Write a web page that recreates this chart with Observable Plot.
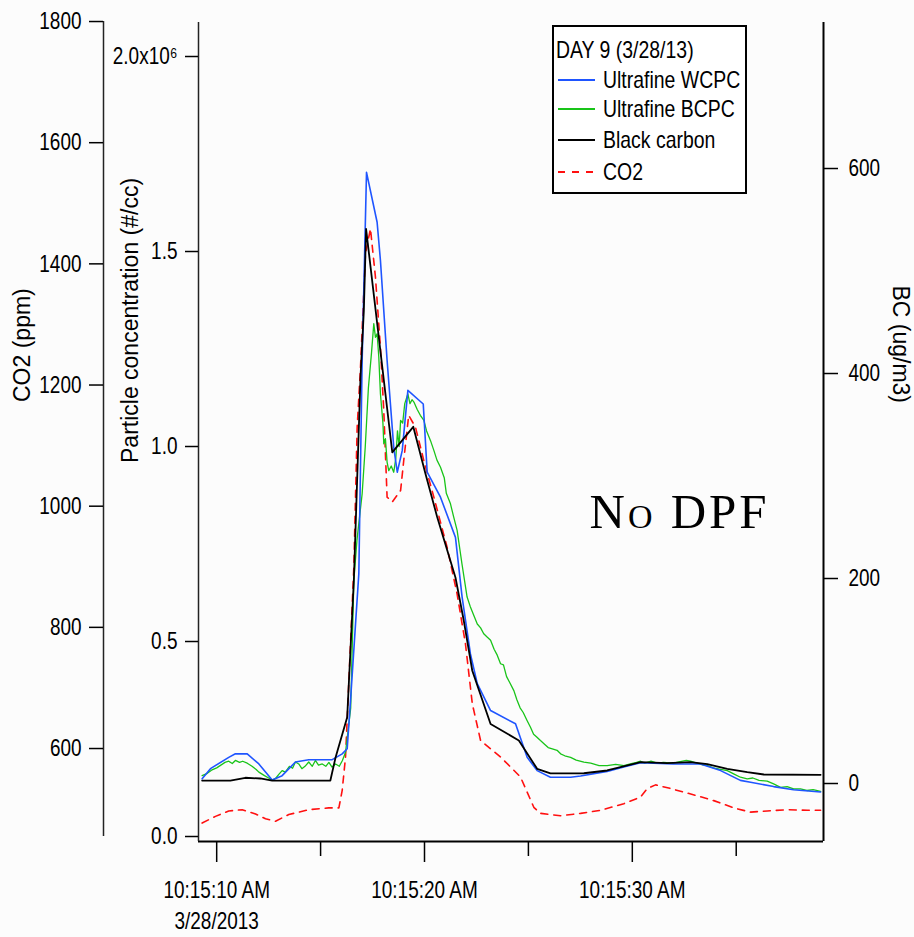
<!DOCTYPE html>
<html>
<head>
<meta charset="utf-8">
<script src="https://cdn.jsdelivr.net/npm/d3@7"></script>
<script src="https://cdn.jsdelivr.net/npm/@observablehq/plot@0.6"></script>
<style>
  body { margin: 0; background: #fcfcfc; }
  #wrap { position: relative; width: 914px; height: 937px; overflow: hidden;
          font-family: 'Liberation Sans', Arial, sans-serif; }
  #legend { position: absolute; left: 552px; top: 25px; width: 195px; height: 169px;
            border: 2px solid #000; box-sizing: border-box; background: #fff; font-size: 24px; color: #000; }
  #legend .row { position: absolute; height: 28px; line-height: 28px; white-space: nowrap;
                 transform: scaleX(0.81); transform-origin: 0 50%; }
  #legend svg { position: absolute; }
</style>
</head>
<body>
<div id="wrap"></div>
<script>
// ---- data (time in seconds after 10:15:00 AM, 3/28/2013) ----
const seriesNames = ["Ultrafine WCPC", "Ultrafine BCPC", "Black carbon", "CO2"];
const legendTitle = "DAY 9 (3/28/13)";

// Ultrafine WCPC, particle concentration in 10^6 #/cc
const wcpc = [
  [9.30,0.148],[9.70,0.174],[10.58,0.203],[10.90,0.212],[11.47,0.212],[12.03,0.186],[12.67,0.145],
  [13.15,0.156],[13.79,0.191],[14.43,0.197],[15.56,0.197],[16.04,0.212],[16.28,0.225],[16.44,0.349],
  [16.84,0.674],[17.00,1.221],[17.21,1.703],[17.72,1.575],[17.88,1.477],[18.20,1.221],[18.52,0.998],
  [18.69,0.934],[18.93,0.990],[19.20,1.144],[19.94,1.109],[20.13,0.934],[20.77,0.870],[21.49,0.767],
  [21.81,0.614],[22.21,0.468],[22.54,0.392],[23.18,0.323],[24.38,0.289],[24.94,0.203],[25.42,0.169],
  [26.06,0.152],[27.03,0.152],[27.51,0.155],[28.79,0.167],[29.59,0.178],[30.40,0.189],[31.98,0.186],
  [33.28,0.186],[34.25,0.169],[35.20,0.144],[35.69,0.139],[36.80,0.128],[37.76,0.120],[39.06,0.114]
];

// Ultrafine BCPC, particle concentration in 10^6 #/cc
const bcpc = [
  [9.30,0.156],[9.55,0.162],[9.75,0.170],[10.00,0.176],[10.20,0.183],[10.40,0.190],[10.58,0.193],
  [10.75,0.187],[10.90,0.195],[11.10,0.190],[11.25,0.193],[11.47,0.188],[11.70,0.180],[11.90,0.172],
  [12.03,0.165],[12.30,0.156],[12.50,0.150],[12.67,0.144],[12.85,0.150],[13.00,0.160],[13.15,0.169],
  [13.30,0.165],[13.50,0.180],[13.65,0.175],[13.79,0.191],[13.95,0.186],[14.10,0.174],[14.25,0.180],
  [14.43,0.191],[14.60,0.180],[14.75,0.195],[14.90,0.183],[15.08,0.186],[15.25,0.180],[15.40,0.190],
  [15.55,0.178],[15.72,0.186],[15.90,0.180],[16.05,0.195],[16.20,0.216],[16.45,0.330],[16.60,0.656],
  [16.75,0.760],[17.00,0.879],[17.15,1.000],[17.30,1.150],[17.45,1.240],[17.56,1.315],[17.64,1.280],
  [17.72,1.289],[17.80,1.230],[17.88,1.135],[18.00,1.060],[18.04,1.007],[18.12,1.020],[18.20,0.960],
  [18.28,0.938],[18.40,0.950],[18.52,0.934],[18.62,0.970],[18.70,1.040],[18.78,1.000],[18.85,1.067],
  [18.95,1.060],[19.05,1.110],[19.20,1.135],[19.30,1.110],[19.40,1.120],[19.49,1.114],[19.65,1.095],
  [19.80,1.080],[19.97,1.067],[20.10,1.040],[20.29,1.015],[20.45,0.990],[20.60,0.965],[20.77,0.947],
  [20.95,0.920],[21.05,0.880],[21.25,0.853],[21.40,0.820],[21.57,0.785],[21.80,0.700],[22.05,0.614],
  [22.20,0.590],[22.35,0.570],[22.54,0.545],[22.70,0.535],[22.85,0.520],[23.00,0.512],[23.18,0.503],
  [23.35,0.480],[23.50,0.465],[23.66,0.443],[23.80,0.440],[23.95,0.410],[24.10,0.395],[24.30,0.374],
  [24.45,0.350],[24.60,0.330],[24.75,0.318],[24.94,0.297],[25.10,0.280],[25.25,0.262],[25.40,0.255],
  [25.58,0.246],[25.75,0.238],[25.95,0.228],[26.15,0.225],[26.38,0.221],[26.55,0.212],[26.75,0.207],
  [27.03,0.203],[27.30,0.196],[27.67,0.191],[28.00,0.188],[28.40,0.182],[28.79,0.182],[29.20,0.185],
  [29.59,0.182],[29.90,0.186],[30.20,0.190],[30.40,0.193],[30.60,0.188],[30.90,0.193],[31.20,0.188],
  [31.50,0.190],[31.98,0.188],[32.30,0.192],[32.60,0.195],[32.80,0.193],[33.10,0.188],[33.40,0.184],
  [33.61,0.182],[33.90,0.176],[34.25,0.172],[34.57,0.169],[34.90,0.160],[35.20,0.152],[35.53,0.148],
  [35.80,0.150],[36.10,0.144],[36.49,0.142],[36.80,0.135],[37.13,0.126],[37.45,0.128],[37.76,0.122],
  [38.09,0.122],[38.40,0.118],[38.70,0.120],[39.06,0.116]
];

// Black carbon, ug/m3
const blackCarbon = [
  [9.30,2.9],[10.66,2.9],[11.38,5.6],[12.10,4.9],[12.67,2.9],[15.47,2.9],[15.72,25.4],[16.28,64.7],
  [16.60,198],[16.92,396],[17.08,461],[17.19,541],[18.45,323],[19.46,348],[20.05,302],[20.61,260],
  [21.49,201],[21.89,159],[22.30,110],[23.18,58],[24.54,42],[25.42,14.3],[26.06,9.8],[27.03,9.8],
  [27.67,10.0],[28.79,12.7],[29.57,16.6],[30.40,20.8],[31.68,19.8],[32.80,20.8],[33.61,19.0],
  [34.57,14.3],[35.53,11.0],[36.33,8.8],[39.06,8.5]
];

// CO2, ppm
const co2 = [
  [9.30,477],[9.94,488],[10.58,497],[11.23,499],[11.87,492],[12.35,484],[12.83,480],[13.47,491],
  [14.43,499],[15.39,502],[15.88,502],[16.04,531],[16.20,586],[16.60,899],[16.76,1130],[16.92,1229],
  [17.16,1417],[17.40,1458],[17.64,1378],[17.88,1262],[18.04,1158],[18.20,1015],[18.45,1007],
  [18.85,1026],[19.00,1075],[19.24,1150],[19.57,1130],[19.97,1075],[20.45,1015],[21.09,932],
  [21.57,855],[21.97,773],[22.30,674],[22.70,613],[23.66,586],[24.62,553],[25.26,503],[25.58,493],
  [26.54,489],[27.51,493],[28.47,498],[29.59,509],[30.40,520],[30.72,534],[31.12,540],[31.84,534],
  [32.48,528],[33.12,522],[33.92,514],[34.88,502],[35.69,495],[36.49,497],[37.45,499],[38.42,498],
  [39.06,498]
];

// tick values / labels
const particleTicks = [0, 0.5, 1.0, 1.5, 2.0];
const co2Ticks = [600, 800, 1000, 1200, 1400, 1600, 1800];
const bcTicks = [0, 200, 400, 600];
const majorSeconds = [10, 20, 30];
const minorSeconds = [15, 25, 35];
const dateLabel = "3/28/2013";
const axisLabels = { co2: "CO2 (ppm)", particle: "Particle concentration (#/cc)", bc: "BC (ug/m3)" };
const annotation = "No DPF";

// ---- scales / alignment of the three y axes ----
const base = new Date(2013, 2, 28, 10, 15, 0);
const T = s => new Date(base.getTime() + s * 1000);
const xDomain = [T(9.125), T(39.2)];
const yDomain = [-0.0128, 2.0872];            // particle axis, 10^6 #/cc
// CO2 axis 600..1800 ppm aligned with particle 0.2256..2.0897
const co2ToP = c => 0.2256 + (c - 600) * (2.0897 - 0.2256) / 1200;
const pToCo2 = p => 600 + (p - 0.2256) * 1200 / (2.0897 - 0.2256);
// BC axis 0..600 aligned with particle 0.1359..1.7128
const bcToP = b => 0.1359 + b * (1.7128 - 0.1359) / 600;
const pToBc = p => (p - 0.1359) * 600 / (1.7128 - 0.1359);

const rows = [
  ...co2.map(([t, v]) => ({time: T(t), y: co2ToP(v), s: "CO2"})),
  ...bcpc.map(([t, v]) => ({time: T(t), y: v, s: "Ultrafine BCPC"})),
  ...wcpc.map(([t, v]) => ({time: T(t), y: v, s: "Ultrafine WCPC"})),
  ...blackCarbon.map(([t, v]) => ({time: T(t), y: bcToP(v), s: "Black carbon"}))
];
const colors = {"Ultrafine WCPC": "#1f55ff", "Ultrafine BCPC": "#19c419", "Black carbon": "#000000", "CO2": "#ff1010"};
const widths = {"Ultrafine WCPC": 1.6, "Ultrafine BCPC": 1.3, "Black carbon": 1.8, "CO2": 1.6};

const fmtTime = s => {
  const d = T(s);
  const pad = n => String(n).padStart(2, "0");
  return `${d.getHours()}:${pad(d.getMinutes())}:${pad(d.getSeconds())} AM`;
};

const lineMark = name => Plot.line(rows.filter(r => r.s === name), {
  x: "time", y: "y", stroke: colors[name], strokeWidth: widths[name],
  strokeDasharray: name === "CO2" ? "7,6" : null, curve: "linear"
});

const chart = Plot.plot({
  width: 914, height: 937,
  marginLeft: 198, marginRight: 91, marginTop: 22, marginBottom: 96,
  style: {fontFamily: "'Liberation Sans', Arial, sans-serif",
          fontSize: "24px", background: "transparent", color: "#000", overflow: "visible"},
  x: {type: "time", domain: xDomain, axis: null},
  y: {domain: yDomain, axis: null},
  marks: [
    // frame lines
    Plot.ruleY([yDomain[0]], {stroke: "#000", strokeWidth: 2}),
    Plot.ruleX([xDomain[0]], {stroke: "#222", strokeWidth: 1.5}),
    Plot.ruleX([xDomain[1]], {stroke: "#000", strokeWidth: 2}),
    // CO2 axis (far left)
    Plot.ruleX([xDomain[0]], {dx: -95, y1: 0, y2: co2ToP(1800), stroke: "#222", strokeWidth: 1.5}),
    Plot.axisY(co2Ticks.map(co2ToP), {anchor: "left", dx: -95, tickSize: 14, tickPadding: 8, label: null,
      strokeWidth: 1.5, tickFormat: p => String(Math.round(pToCo2(p)))}),
    // particle axis
    Plot.axisY(particleTicks, {anchor: "left", tickSize: 13, tickPadding: 8, strokeWidth: 1.5, label: null,
      tickFormat: d => d === 2 ? "2.0x10\u2076" : d.toFixed(1)}),
    // BC axis (right)
    Plot.axisY(bcTicks.map(bcToP), {anchor: "right", tickSize: 14, tickPadding: 11, strokeWidth: 1.5, label: null,
      tickFormat: p => String(Math.round(pToBc(p)))}),
    // time axis
    Plot.axisX(majorSeconds.map(T), {anchor: "bottom", tickSize: 21, tickPadding: 13, strokeWidth: 1.5,
      lineHeight: 1.3, label: null,
      tickFormat: (d) => {
        const s = (d - base) / 1000;
        return s === majorSeconds[0] ? fmtTime(s) + "\n" + dateLabel : fmtTime(s);
      }}),
    Plot.axisX(minorSeconds.map(T), {anchor: "bottom", tickSize: 15, strokeWidth: 1.5, label: null,
      tickFormat: () => ""}),
    // axis titles
    Plot.text([axisLabels.co2], {frameAnchor: "left", rotate: -90, dx: -176, dy: -30, fontSize: 23}),
    Plot.text([axisLabels.particle], {frameAnchor: "left", rotate: -90, dx: -68, dy: 31, fontSize: 23}),
    Plot.text([axisLabels.bc], {frameAnchor: "right", rotate: 90, dx: 77, dy: -29, fontSize: 23}),
    // annotation
    Plot.text([annotation], {frameAnchor: "top-left", dx: 391, dy: 490, textAnchor: "start",
      lineAnchor: "middle", fontFamily: "'Liberation Serif','DejaVu Serif',serif", fontSize: 49,
      fontVariant: "small-caps"}),
    // data
    lineMark("CO2"),
    lineMark("Ultrafine BCPC"),
    lineMark("Ultrafine WCPC"),
    lineMark("Black carbon")
  ]
});
const wrap = document.getElementById("wrap");
wrap.appendChild(chart);

// condensed look of the tick labels (the original uses a narrow typeface)
chart.querySelectorAll('g[aria-label$="tick label"] text').forEach(t => {
  const parts = t.querySelectorAll("tspan");
  (parts.length ? Array.from(parts) : [t]).forEach(el => {
    const L = el.getComputedTextLength();
    if (L > 0) { el.setAttribute("textLength", (L * 0.79).toFixed(1)); el.setAttribute("lengthAdjust", "spacingAndGlyphs"); }
  });
});
chart.querySelectorAll("text").forEach(t => {
  if (t.textContent === annotation) t.style.letterSpacing = "3px";
});

// legend
const legend = document.createElement("div");
legend.id = "legend";
const title = document.createElement("div");
title.className = "row"; title.style.left = "2px"; title.style.top = "9px"; title.textContent = legendTitle;
legend.appendChild(title);
const centers = [53, 82, 113, 145];
seriesNames.forEach((name, i) => {
  const c = centers[i];
  const ns = "http://www.w3.org/2000/svg";
  const svg = document.createElementNS(ns, "svg");
  svg.setAttribute("width", 40); svg.setAttribute("height", 6);
  svg.style.left = "4px"; svg.style.top = (c - 3) + "px";
  const ln = document.createElementNS(ns, "line");
  ln.setAttribute("x1", 0); ln.setAttribute("x2", 37); ln.setAttribute("y1", 3); ln.setAttribute("y2", 3);
  ln.setAttribute("stroke", colors[name]); ln.setAttribute("stroke-width", 2);
  if (name === "CO2") ln.setAttribute("stroke-dasharray", "7,7");
  svg.appendChild(ln);
  legend.appendChild(svg);
  const t = document.createElement("div");
  t.className = "row"; t.style.left = "49px"; t.style.top = (c - 14) + "px"; t.textContent = name;
  legend.appendChild(t);
});
wrap.appendChild(legend);
</script>
</body>
</html>
